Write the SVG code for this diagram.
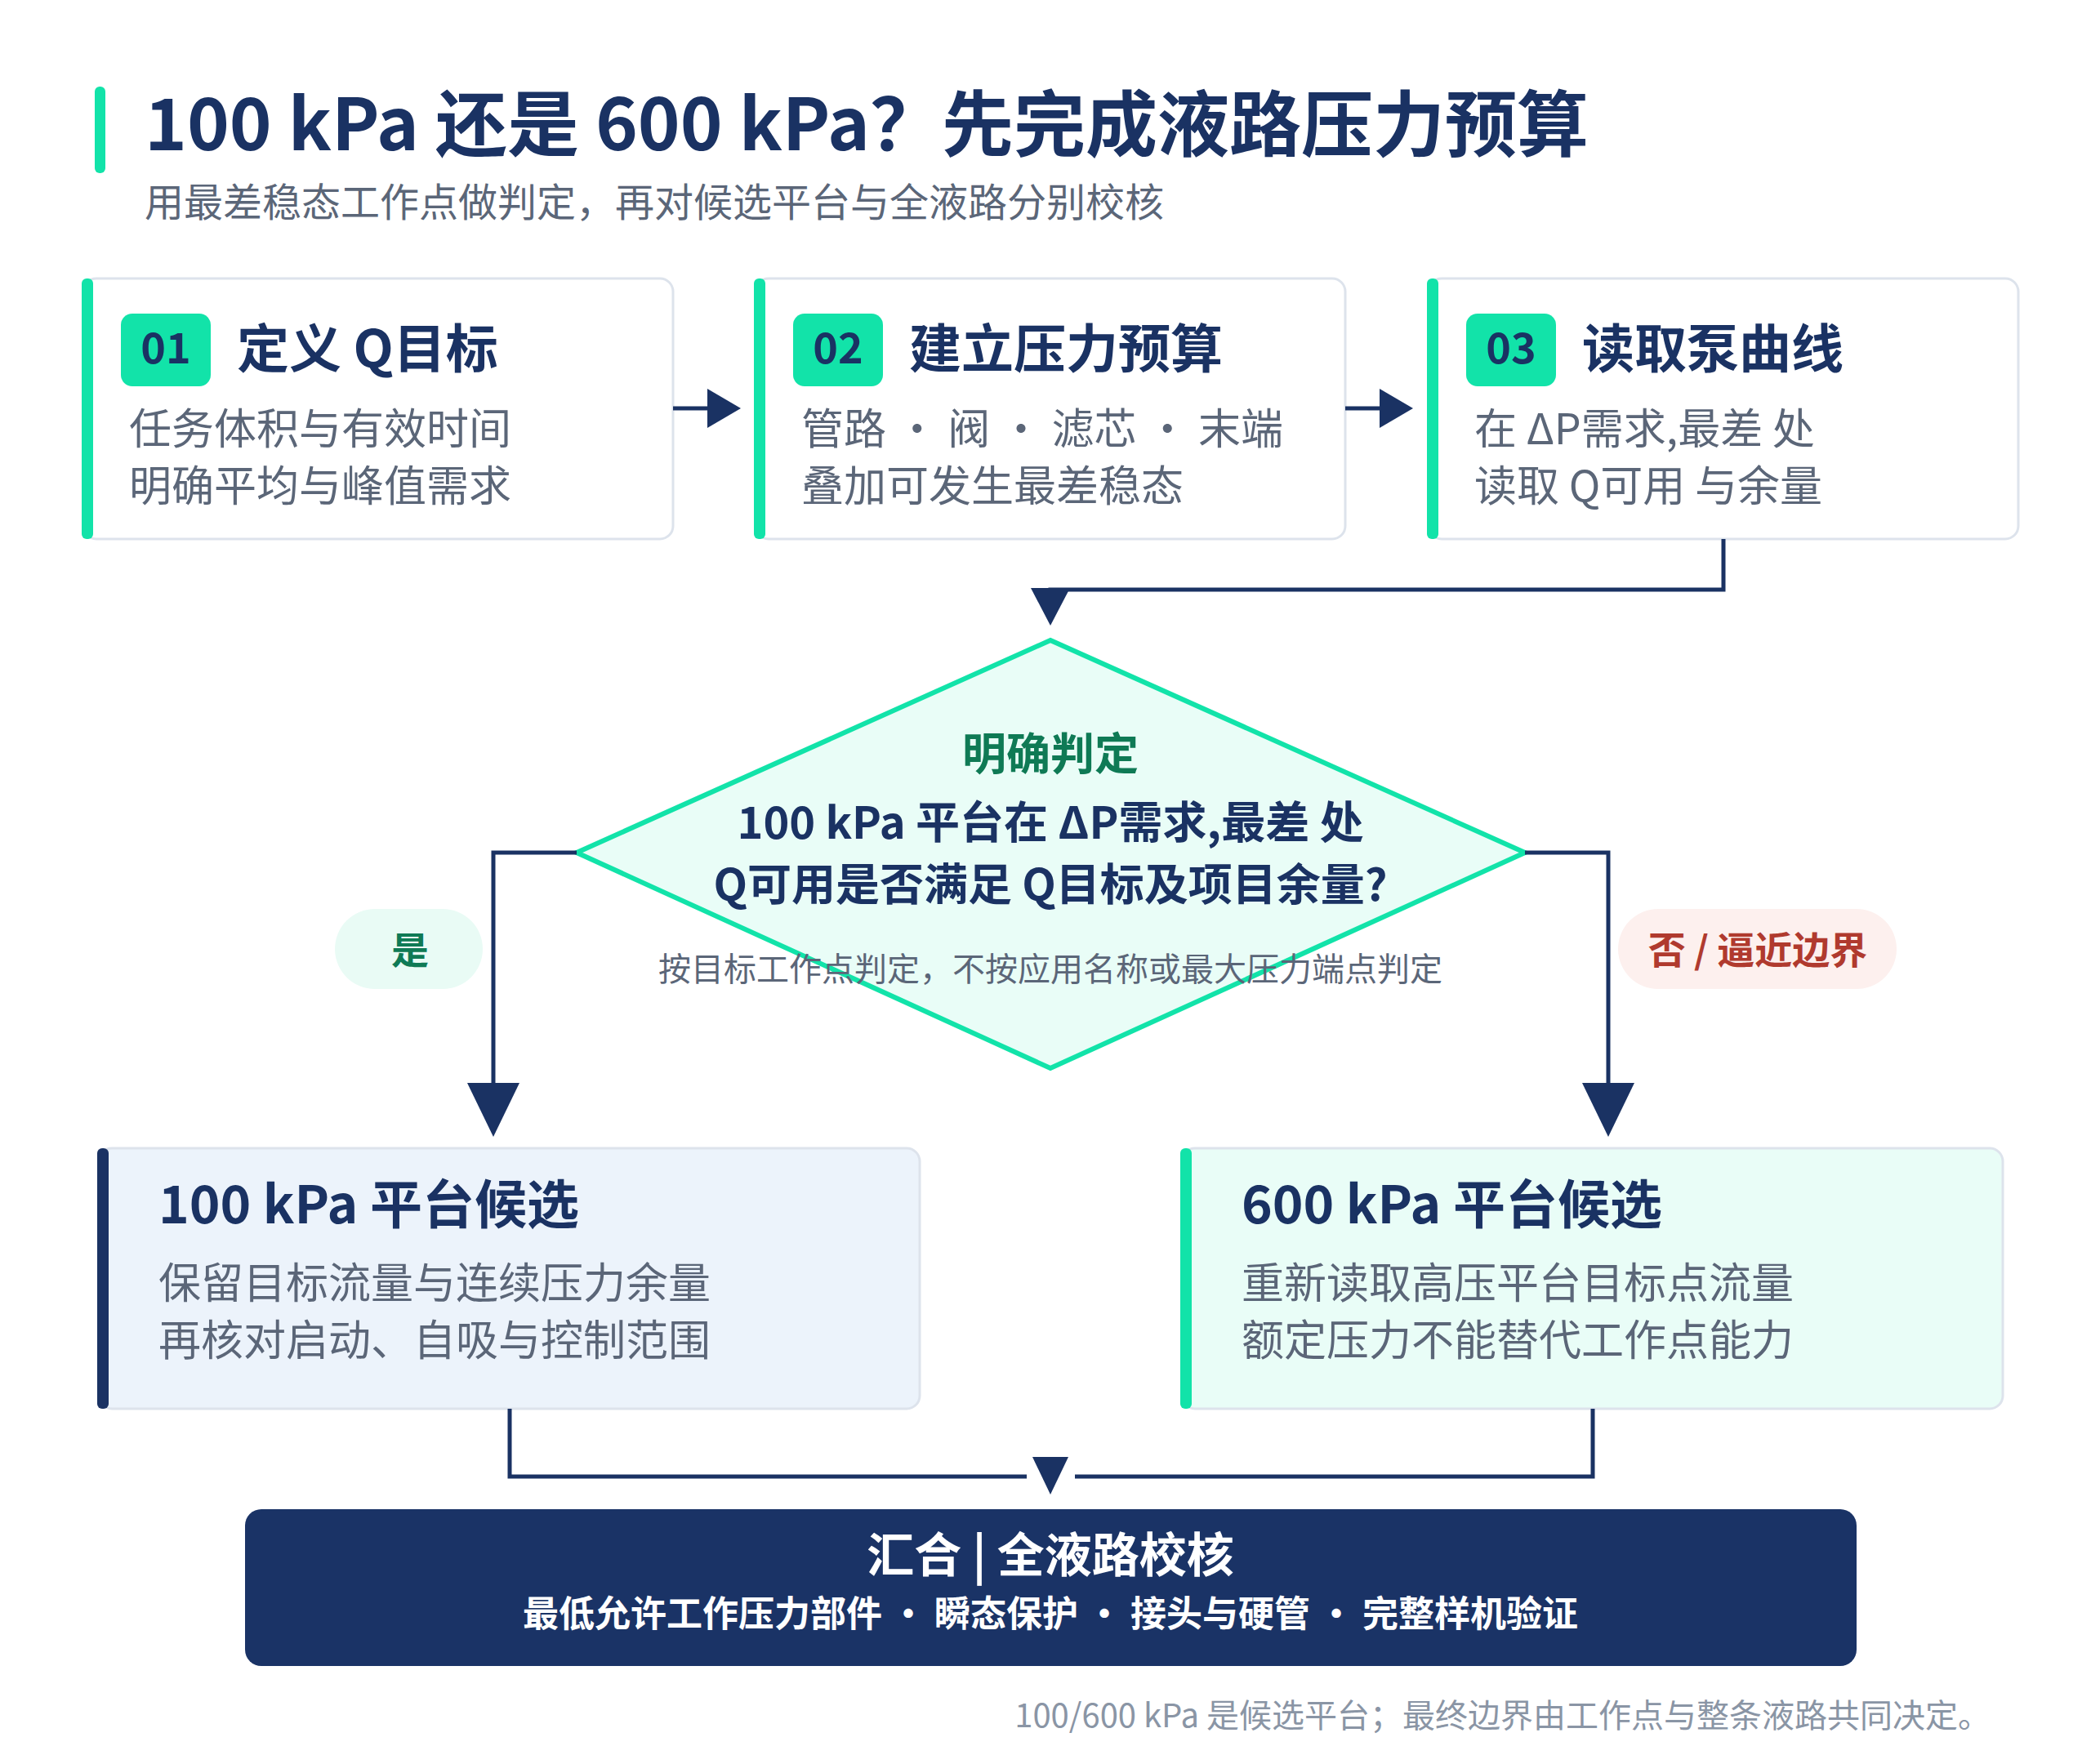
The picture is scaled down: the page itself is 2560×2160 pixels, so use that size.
<svg xmlns="http://www.w3.org/2000/svg" width="2560" height="2160" viewBox="0 0 2560 2160">
<style>
text{font-family:"Noto Sans CJK SC","Noto Sans",sans-serif}
.h{font-weight:700;fill:#1a3263}
.b{fill:#5b6678;font-size:52px}
.card{fill:#fff;stroke:#dde3ec;stroke-width:3}
.ln{fill:none;stroke:#1a3263;stroke-width:5}
.ah{fill:#1a3263}
</style>
<rect width="2560" height="2160" fill="#fff"/>
<g id="title">
<rect x="116" y="106" width="13" height="106" rx="6" fill="#12e3a9"/>
<text x="177" y="184" class="h" font-size="88">100 kPa 还是 600 kPa？先完成液路压力预算</text>
<text x="177" y="265" font-size="48" fill="#5b6678">用最差稳态工作点做判定，再对候选平台与全液路分别校核</text>
</g>
<g id="card1">
<rect x="102" y="341" width="722" height="319" rx="16" class="card"/>
<rect x="100" y="341" width="14" height="319" rx="6" fill="#12e3a9"/>
<rect x="148" y="384" width="110" height="89" rx="14" fill="#12e3a9"/>
<text x="203" y="445" text-anchor="middle" class="h" font-size="52">01</text>
<text x="290" y="450" class="h" font-size="64">定义 Q目标</text>
<text x="158" y="544" class="b">任务体积与有效时间</text>
<text x="158" y="614" class="b">明确平均与峰值需求</text>
</g>
<g id="card2">
<rect x="925" y="341" width="722" height="319" rx="16" class="card"/>
<rect x="923" y="341" width="14" height="319" rx="6" fill="#12e3a9"/>
<rect x="971" y="384" width="110" height="89" rx="14" fill="#12e3a9"/>
<text x="1026" y="445" text-anchor="middle" class="h" font-size="52">02</text>
<text x="1113" y="450" class="h" font-size="64">建立压力预算</text>
<text x="981" y="544" class="b">管路 · 阀 · 滤芯 · 末端</text>
<text x="981" y="614" class="b">叠加可发生最差稳态</text>
</g>
<g id="card3">
<rect x="1749" y="341" width="722" height="319" rx="16" class="card"/>
<rect x="1747" y="341" width="14" height="319" rx="6" fill="#12e3a9"/>
<rect x="1795" y="384" width="110" height="89" rx="14" fill="#12e3a9"/>
<text x="1850" y="445" text-anchor="middle" class="h" font-size="52">03</text>
<text x="1937" y="450" class="h" font-size="64">读取泵曲线</text>
<text x="1805" y="544" class="b">在 ΔP需求,最差 处</text>
<text x="1805" y="614" class="b">读取 Q可用 与余量</text>
</g>
<g id="decision">
<polygon points="1286,784 1867,1044 1286,1308 706,1044" fill="#e9fdf7" stroke="#12e3a9" stroke-width="6"/>
<text x="1286" y="943" text-anchor="middle" font-weight="700" font-size="54" fill="#0f7a55">明确判定</text>
<text x="1286" y="1027" text-anchor="middle" class="h" font-size="54">100 kPa 平台在 ΔP需求,最差 处</text>
<text x="1286" y="1103" text-anchor="middle" class="h" font-size="54">Q可用是否满足 Q目标及项目余量?</text>
<text x="1286" y="1201" text-anchor="middle" font-size="40" fill="#5b6678">按目标工作点判定，不按应用名称或最大压力端点判定</text>
</g>
<g id="yes">
<rect x="410" y="1113" width="181" height="98" rx="49" fill="#e9fbf5"/>
<text x="502" y="1180" text-anchor="middle" font-weight="700" font-size="46" fill="#0f7a55">是</text>
</g>
<g id="no">
<rect x="1981" y="1113" width="341" height="98" rx="49" fill="#fdf0ee"/>
<text x="2152" y="1180" text-anchor="middle" font-weight="700" font-size="46" fill="#b03a2e">否 / 逼近边界</text>
</g>
<g id="opt100">
<rect x="121" y="1406" width="1005" height="319" rx="16" fill="#ecf3fb" stroke="#dde3ec" stroke-width="3"/>
<rect x="119" y="1406" width="14" height="319" rx="6" fill="#1a3263"/>
<text x="194" y="1498" class="h" font-size="64">100 kPa 平台候选</text>
<text x="194" y="1590" class="b">保留目标流量与连续压力余量</text>
<text x="194" y="1660" class="b">再核对启动、自吸与控制范围</text>
</g>
<g id="opt600">
<rect x="1447" y="1406" width="1005" height="319" rx="16" fill="#e9fdf7" stroke="#dde3ec" stroke-width="3"/>
<rect x="1445" y="1406" width="14" height="319" rx="6" fill="#12e3a9"/>
<text x="1520" y="1498" class="h" font-size="64">600 kPa 平台候选</text>
<text x="1520" y="1590" class="b">重新读取高压平台目标点流量</text>
<text x="1520" y="1660" class="b">额定压力不能替代工作点能力</text>
</g>
<g id="merge">
<rect x="300" y="1848" width="1973" height="192" rx="20" fill="#1a3366"/>
<text x="1286" y="1925" text-anchor="middle" font-weight="700" font-size="58" fill="#fff">汇合 | 全液路校核</text>
<text x="1286" y="1992" text-anchor="middle" font-weight="700" font-size="44" fill="#fff">最低允许工作压力部件 • 瞬态保护 • 接头与硬管 • 完整样机验证</text>
</g>
<text id="footer" x="2437" y="2115" text-anchor="end" font-size="40" fill="#8a95a5">100/600 kPa 是候选平台；最终边界由工作点与整条液路共同决定。</text>
<g id="connectors">
<path class="ln" d="M824,500 H870"/><polygon class="ah" points="866,476 907,500 866,524"/>
<path class="ln" d="M1647,500 H1693"/><polygon class="ah" points="1689,476 1730,500 1689,524"/>
<path class="ln" d="M2110,660 V722 H1286 V735"/><polygon class="ah" points="1262,720 1310,720 1286,766"/>
<path class="ln" d="M706,1044 H604 V1330"/><polygon class="ah" points="572,1326 636,1326 604,1392"/>
<path class="ln" d="M1867,1044 H1969 V1330"/><polygon class="ah" points="1937,1326 2001,1326 1969,1392"/>
<path class="ln" d="M624,1725 V1808 H1257"/>
<path class="ln" d="M1950,1725 V1808 H1316"/>
<polygon class="ah" points="1264,1784 1308,1784 1286,1830"/>
</g>
</svg>
